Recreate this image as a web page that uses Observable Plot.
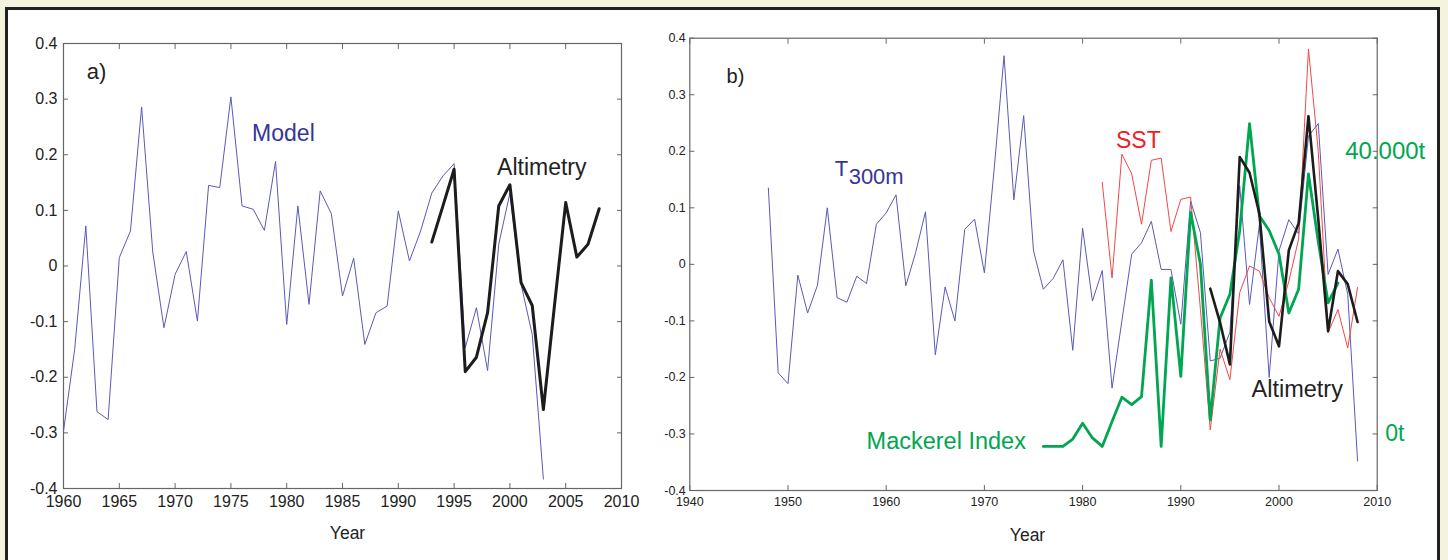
<!DOCTYPE html>
<html><head><meta charset="utf-8">
<script src="https://cdn.jsdelivr.net/npm/d3@7"></script>
<script src="https://cdn.jsdelivr.net/npm/@observablehq/plot@0.6"></script>
<style>
html,body{margin:0;padding:0;}
body{width:1448px;height:560px;background:#f4f4de;position:relative;overflow:hidden;font-family:"Liberation Sans",Arial,sans-serif;}
#frame{position:absolute;left:5px;top:7px;width:1435px;height:600px;border:3px solid #222;background:#fff;box-sizing:border-box;}
#a,#b{position:absolute;top:0;}
#a{left:0px}
#b{left:640px}
</style></head>
<body><div id="frame"></div><div id="a"></div><div id="b"></div>
<script>
// ---------- Panel a) data ----------
const modelYears = d3.range(1960, 2004);
const modelValues = [-0.297,-0.15,0.072,-0.262,-0.276,0.015,0.063,0.286,0.025,-0.111,
  -0.015,0.026,-0.099,0.145,0.141,0.304,0.108,0.102,0.064,0.188,
  -0.105,0.108,-0.069,0.135,0.094,-0.054,0.014,-0.141,-0.084,-0.072,
  0.099,0.009,0.063,0.131,0.162,0.184,-0.147,-0.075,-0.188,0.039,
  0.131,-0.033,-0.123,-0.383];
const altAYears = d3.range(1993, 2009);
const altAValues = [0.043,0.108,0.174,-0.190,-0.164,-0.084,0.108,0.146,-0.030,-0.071,-0.258,-0.07,0.114,0.016,0.039,0.103];
const xTicksA = [1960,1965,1970,1975,1980,1985,1990,1995,2000,2005,2010];
const yTicks = [-0.4,-0.3,-0.2,-0.1,0,0.1,0.2,0.3,0.4];

// ---------- Panel b) data ----------
const t300Years = d3.range(1948, 2009);
const t300Values = [0.135,-0.192,-0.211,-0.019,-0.086,-0.037,0.100,-0.059,-0.067,-0.021,
  -0.034,0.071,0.091,0.123,-0.038,0.021,0.093,-0.160,-0.040,-0.100,
  0.062,0.080,-0.015,0.17,0.369,0.114,0.263,0.024,-0.044,-0.025,
  0.008,-0.152,0.064,-0.065,-0.011,-0.219,-0.10,0.018,0.038,0.076,
  -0.009,-0.009,-0.106,0.112,0.056,-0.171,-0.166,-0.12,0.139,-0.071,
  0.07,-0.200,0.024,0.079,0.054,0.227,0.249,-0.018,0.027,-0.053,-0.348];
const sstYears = d3.range(1982, 2009);
const sstValues = [0.145,-0.024,0.195,0.160,0.071,0.184,0.188,0.058,0.115,0.119,
  -0.08,-0.293,-0.15,-0.204,-0.050,-0.003,-0.012,-0.059,-0.092,-0.030,
  0.045,0.381,0.20,-0.121,-0.080,-0.148,-0.041];
const mackYears = d3.range(1976, 2007);
const mackValues = [-0.322,-0.322,-0.322,-0.309,-0.281,-0.307,-0.322,-0.278,-0.235,-0.248,
  -0.234,-0.028,-0.322,-0.024,-0.198,0.092,0.0,-0.275,-0.095,-0.053,
  0.06,0.249,0.086,0.060,0.018,-0.086,-0.044,0.160,0.04,-0.068,-0.033];
const altBYears = d3.range(1993, 2009);
const altBValues = [-0.043,-0.103,-0.177,0.190,0.162,0.090,-0.101,-0.145,0.025,0.073,0.262,0.08,-0.118,-0.012,-0.035,-0.102];
const xTicksB = [1940,1950,1960,1970,1980,1990,2000,2010];
const rightTickValues = [0.2,-0.3];
const rightTickLabels = ["40.000t","0t"];

const font = '"Liberation Sans", Arial, Helvetica, sans-serif';
const toRows = (ys, vs) => ys.map((y, i) => ({year: y, v: vs[i]}));
const fmt = d => String(d);
const axisColor = "#666";
const blueText = "#35359a", blueLine = "#5a5ab8", redLine = "#f04848", redText = "#ee2026", green = "#00a651", black = "#1c1c1c";

function frameAxes(xTicks, fs, padX, padY) {
  return [
    Plot.frame({stroke: axisColor, strokeWidth: 1.2}),
    Plot.axisX(xTicks, {anchor: "bottom", tickSize: -5, tickPadding: padX, tickFormat: fmt, fontSize: fs, stroke: axisColor, color: "#222", label: null}),
    Plot.axisX(xTicks, {anchor: "top", tickSize: -5, tickFormat: () => "", stroke: axisColor, label: null}),
    Plot.axisY(yTicks, {anchor: "left", tickSize: -5, tickPadding: padY, tickFormat: fmt, fontSize: fs, stroke: axisColor, label: null}),
    Plot.axisY(yTicks, {anchor: "right", tickSize: -5, tickFormat: () => "", stroke: axisColor, label: null})
  ];
}

const plotA = Plot.plot({
  width: 660, height: 560,
  marginLeft: 63, marginRight: 39, marginTop: 43, marginBottom: 72,
  style: {fontFamily: font, fontSize: "16px", color: "#222", background: "transparent", overflow: "visible"},
  x: {domain: [1960, 2010], label: null},
  y: {domain: [-0.4, 0.4], label: null},
  marks: [
    ...frameAxes(xTicksA, 16, 12, 11),
    Plot.line(toRows(modelYears, modelValues), {x: "year", y: "v", stroke: blueLine, strokeWidth: 1}),
    Plot.line(toRows(altAYears, altAValues), {x: "year", y: "v", stroke: black, strokeWidth: 3}),
    Plot.text(["a)"], {x: 1962.08, y: 0.348, textAnchor: "start", lineAnchor: "middle", fontSize: 22, fill: "#222"}),
    Plot.text(["Model"], {x: 1976.9, y: 0.238, textAnchor: "start", lineAnchor: "middle", fontSize: 23, fill: blueText}),
    Plot.text(["Altimetry"], {x: 1998.85, y: 0.177, textAnchor: "start", lineAnchor: "middle", fontSize: 23, fill: "#222"}),
    Plot.text(["Year"], {frameAnchor: "bottom", dy: 45, dx: 5, lineAnchor: "middle", fontSize: 17.5, fill: "#222"})
  ]
});
document.getElementById("a").append(plotA);

const plotB = Plot.plot({
  width: 808, height: 560,
  marginLeft: 49.3, marginRight: 71.3, marginTop: 37.7, marginBottom: 70,
  style: {fontFamily: font, fontSize: "12.5px", color: "#222", background: "transparent", overflow: "visible"},
  x: {domain: [1940, 2010], label: null},
  y: {domain: [-0.4, 0.4], label: null},
  marks: [
    ...frameAxes(xTicksB, 12.5, 12, 9),
    Plot.line(toRows(t300Years, t300Values), {x: "year", y: "v", stroke: blueLine, strokeWidth: 1}),
    Plot.line(toRows(sstYears, sstValues), {x: "year", y: "v", stroke: redLine, strokeWidth: 1}),
    Plot.line(toRows(mackYears, mackValues), {x: "year", y: "v", stroke: green, strokeWidth: 2.8}),
    Plot.line(toRows(altBYears, altBValues), {x: "year", y: "v", stroke: black, strokeWidth: 2.6}),
    Plot.text(["b)"], {x: 1943.74, y: 0.332, textAnchor: "start", lineAnchor: "middle", fontSize: 20, fill: "#222"}),
    Plot.text(["T"], {x: 1954.75, y: 0.169, textAnchor: "start", lineAnchor: "middle", fontSize: 22, fill: blueText}),
    Plot.text(["300m"], {x: 1954.75, y: 0.155, dx: 14, textAnchor: "start", lineAnchor: "middle", fontSize: 22, fill: blueText}),
    Plot.text(["SST"], {x: 1983.4, y: 0.219, textAnchor: "start", lineAnchor: "middle", fontSize: 23, fill: redText}),
    Plot.text(["Mackerel Index"], {x: 1958.0, y: -0.313, textAnchor: "start", lineAnchor: "middle", fontSize: 23.5, fill: green}),
    Plot.text(["Altimetry"], {x: 1997.2, y: -0.221, textAnchor: "start", lineAnchor: "middle", fontSize: 23.5, fill: "#222"}),
    Plot.text([rightTickLabels[0]], {x: 2010, y: rightTickValues[0], dx: -32, textAnchor: "start", lineAnchor: "middle", fontSize: 24, fill: green}),
    Plot.text([rightTickLabels[1]], {x: 2010, y: rightTickValues[1], dx: 8, textAnchor: "start", lineAnchor: "middle", fontSize: 23, fill: green}),
    Plot.text(["Year"], {frameAnchor: "bottom", dy: 45, dx: -6, lineAnchor: "middle", fontSize: 17.5, fill: "#222"})
  ]
});
document.getElementById("b").append(plotB);
</script></body></html>
